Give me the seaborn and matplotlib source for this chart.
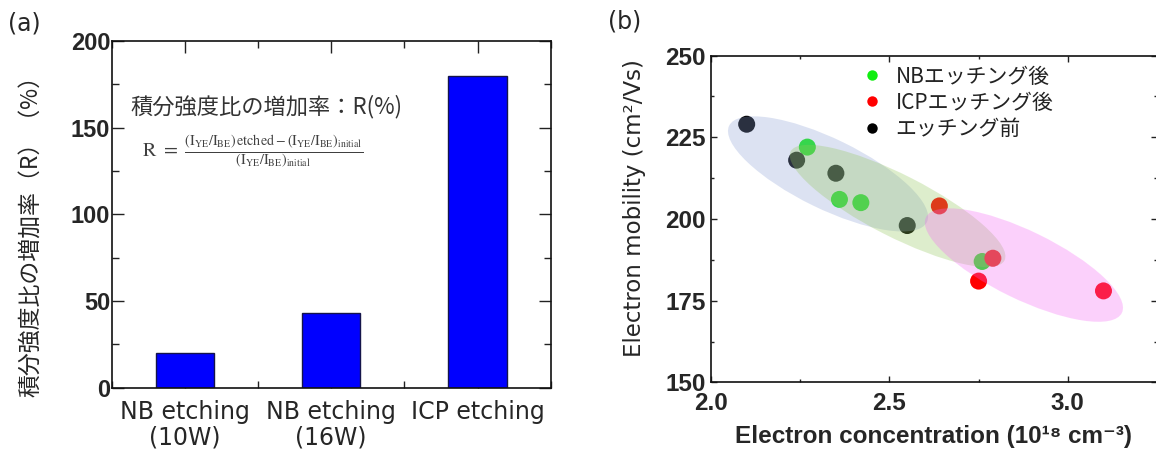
import numpy as np
import pandas as pd
import matplotlib
matplotlib.use('Agg')
import matplotlib.pyplot as plt
import seaborn as sns
from matplotlib.patches import Ellipse
from matplotlib.transforms import ScaledTranslation
from matplotlib.lines import Line2D
from matplotlib.ticker import MultipleLocator

# ---------------- data ----------------
# Panel (a)
categories = ['NB etching\n(10W)', 'NB etching\n(16W)', 'ICP etching']
increase_rate = [20, 43, 180]
a_yticks = [0, 50, 100, 150, 200]

# Panel (b)
group_labels = ['NBエッチング後', 'ICPエッチング後', 'エッチング前']
nb_conc = [2.27, 2.36, 2.42, 2.76]
nb_mob = [222, 206, 205, 187]
icp_conc = [2.64, 2.79, 2.75, 3.10]
icp_mob = [204, 188, 181, 178]
pre_conc = [2.10, 2.24, 2.35, 2.55]
pre_mob = [229, 218, 214, 198]
b_xticks = [2.0, 2.5, 3.0]
b_yticks = [150, 175, 200, 225, 250]

# group-highlight ellipses: centre (data), semi-axes (px), tilt (deg)
ellipses = [
    dict(cx=2.328, cy=213.8, a=110, b=35, ang=-26, color='#8ca0d5'),
    dict(cx=2.523, cy=204.0, a=120, b=31, ang=-27, color='#91c658'),
    dict(cx=2.877, cy=185.9, a=109, b=34, ang=-26, color='#f566f5'),
]

sns.set_style('ticks')
plt.rcParams['font.family'] = ['DejaVu Sans', 'Noto Sans CJK JP']
JP = ['Noto Sans CJK JP', 'DejaVu Sans']
BOLD = ['Liberation Sans', 'DejaVu Sans']

W, H = 1156, 459
fig = plt.figure(figsize=(W / 100, H / 100), dpi=100)
ax1 = fig.add_axes([111.7 / W, (H - 387.7) / H, 439 / W, 346.7 / H])
ax2 = fig.add_axes([711 / W, (H - 382.4) / H, 446 / W, 326.8 / H])

# ---------------- panel (a) ----------------
sns.barplot(x=categories, y=increase_rate, ax=ax1, color='#0000ff',
            saturation=1, width=0.4, edgecolor='#15154a', linewidth=1)
ax1.set_xlim(-0.5, 2.5)
ax1.set_ylim(0, 200)
ax1.set_yticks(a_yticks, [str(t) for t in a_yticks], fontsize=17,
               fontweight='bold', family=BOLD)
ax1.set_xticks([0, 1, 2], categories, fontsize=17, family='DejaVu Sans',
               linespacing=1.05)
ax1.yaxis.set_minor_locator(MultipleLocator(25))
ax1.xaxis.set_minor_locator(MultipleLocator(0.5))
ax1.tick_params(which='both', direction='in', top=True, right=True,
                width=1, color='#222222')
ax1.tick_params(which='major', length=8.6)
ax1.tick_params(which='minor', length=4.7)
ax1.tick_params(axis='y', pad=1)
ax1.tick_params(axis='x', pad=9)
ax1.set_xlabel('')
ax1.set_ylabel('積分強度比の増加率（R）（%）', fontsize=16.5, family=JP)
ax1.yaxis.set_label_coords(-0.1565, 0.452)

ax1.text(0.042, 0.81, '積分強度比の増加率：R(%)', transform=ax1.transAxes,
         fontsize=16, family=JP, color='#333333', ha='left', va='center')
ax1.text(0.069, 0.681,
         r'$\mathrm{R}\ =\ \frac{(\mathrm{I}_{\mathrm{YE}}/\mathrm{I}_{\mathrm{BE}})\,\mathrm{etched}-(\mathrm{I}_{\mathrm{YE}}/\mathrm{I}_{\mathrm{BE}})_{\mathrm{initial}}}{(\mathrm{I}_{\mathrm{YE}}/\mathrm{I}_{\mathrm{BE}})_{\mathrm{initial}}}$',
         transform=ax1.transAxes, fontsize=14.5, math_fontfamily='stix',
         color='#404040', ha='left', va='center')

# ---------------- panel (b) ----------------
df = pd.DataFrame({
    'conc': nb_conc + icp_conc + pre_conc,
    'mob': nb_mob + icp_mob + pre_mob,
    'group': [group_labels[0]] * len(nb_conc) + [group_labels[1]] * len(icp_conc)
             + [group_labels[2]] * len(pre_conc),
})
pal = {group_labels[0]: '#11ee11', group_labels[1]: '#ff0000', group_labels[2]: '#000000'}
sns.scatterplot(data=df, x='conc', y='mob', hue='group', palette=pal, s=150,
                linewidth=0, legend=False, ax=ax2, zorder=2)
ax2.set_xlim(2.0, 3.25)
ax2.set_ylim(150, 250)

for e in ellipses:
    tr = fig.dpi_scale_trans + ScaledTranslation(e['cx'], e['cy'], ax2.transData)
    ax2.add_patch(Ellipse((0, 0), 2 * e['a'] / 100, 2 * e['b'] / 100, angle=e['ang'],
                          transform=tr, facecolor=e['color'], edgecolor='none',
                          alpha=0.3, zorder=3))

ax2.set_xticks(b_xticks, [f'{t:.1f}' for t in b_xticks], fontsize=17.5,
               fontweight='bold', family=BOLD)
ax2.set_yticks(b_yticks, [str(t) for t in b_yticks], fontsize=17.5,
               fontweight='bold', family=BOLD)
ax2.xaxis.set_minor_locator(MultipleLocator(0.25))
ax2.yaxis.set_minor_locator(MultipleLocator(12.5))
ax2.tick_params(which='both', direction='in', top=True, right=True, width=1,
                color='#222222')
ax2.tick_params(which='major', length=4.3)
ax2.tick_params(which='minor', length=2.2)
ax2.tick_params(axis='y', pad=4)
ax2.tick_params(axis='x', pad=7)
ax2.set_xlabel('Electron concentration (10¹⁸ cm⁻³)', fontsize=17.5,
               fontweight='bold', family=BOLD)
ax2.xaxis.set_label_coords(0.499, -0.13)
ax2.set_ylabel('Electron mobility (cm²/Vs)', fontsize=16.5, family='DejaVu Sans')
ax2.yaxis.set_label_coords(-0.1457, 0.534)

handles = [Line2D([], [], marker='o', ls='', color=pal[g], markersize=7.5,
                  markeredgewidth=0) for g in group_labels]
ax2.legend(handles, group_labels, loc='upper left', bbox_to_anchor=(0.318, 0.995),
           borderaxespad=0, frameon=False, handlelength=1.0, handletextpad=0.65,
           labelspacing=0.2, borderpad=0.4, labelcolor='#222222',
           prop={'family': JP, 'size': 15})

for ax in (ax1, ax2):
    for sp in ax.spines.values():
        sp.set_linewidth(1.2)
        sp.set_color('#111111')
        sp.set_visible(True)

fig.text(24 / W, 1 - 24 / H, '(a)', ha='center', va='center', fontsize=17)
fig.text(625 / W, 1 - 21 / H, '(b)', ha='center', va='center', fontsize=17)

fig.savefig('out.png', dpi=100)
